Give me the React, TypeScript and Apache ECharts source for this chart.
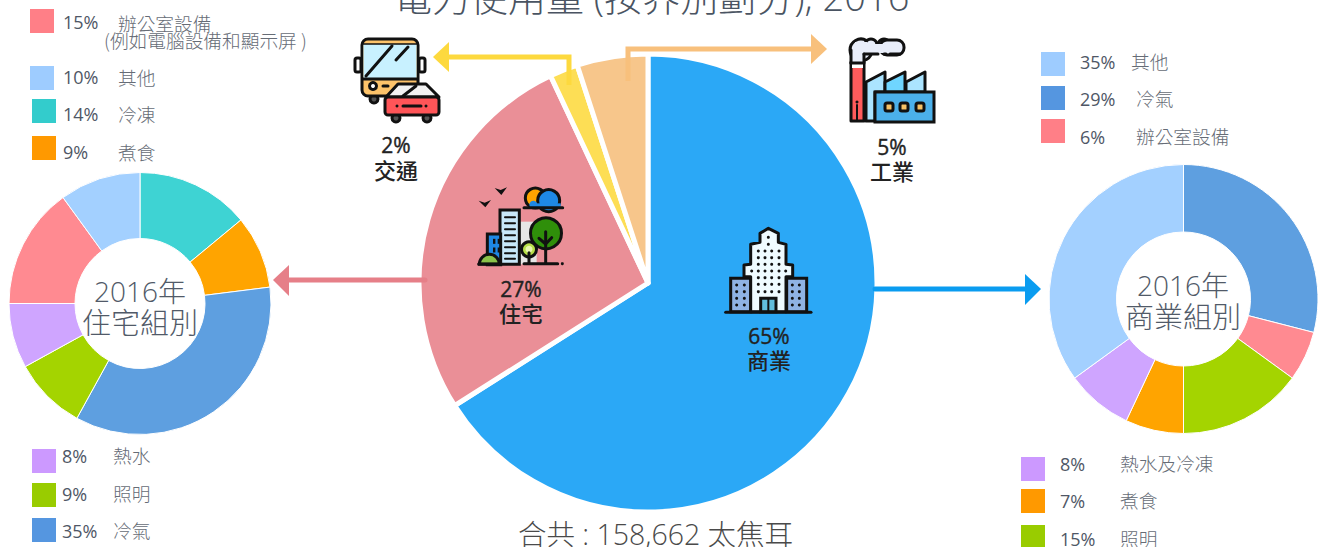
import React, { useEffect, useRef } from "react";
import * as echarts from "echarts";

const mainCategories = ["商業", "住宅", "交通", "工業"];
const mainLabels = ["65%", "27%", "2%", "5%"];
const mainValues = [66, 27, 2, 5];
const mainColors = ["#2BA8F6", "#EA8F97", "#FDDE55", "#F7C68B"];

const homeCategories = ["冷凍", "煮食", "冷氣", "照明", "熱水", "辦公室設備", "其他"];
const homeValues = [14, 9, 35, 9, 8, 15, 10];
const homeColors = ["#3ED3D3", "#FFA400", "#5E9FE0", "#A4D400", "#CFA5FF", "#FF8A91", "#A3D0FF"];

const workCategories = ["冷氣", "辦公室設備", "照明", "煮食", "熱水及冷凍", "其他"];
const workValues = [29, 6, 15, 7, 8, 35];
const workColors = ["#5E9FE0", "#FF8A91", "#A4D400", "#FFA400", "#CFA5FF", "#A3D0FF"];

const titleText = "電力使用量 (按界別劃分), 2016";
const totalText = "合共 : 158,662 太焦耳";

const SANS = '"Open Sans", "Noto Sans CJK TC", sans-serif';
const CJK = '"Noto Sans CJK TC", sans-serif';
const K = "#111";

type LegendRow = [number, number, string, number, number, string, number, number, string];
// swatch x, y, colour, percent x, y, text, label x, y, text
const legendRows: LegendRow[] = [
  [30, 9, "#FF7F87", 63, 22, "15%", 118, 22, "辦公室設備"],
  [30, 66, "#9ECCFF", 63, 77, "10%", 118, 76, "其他"],
  [32, 99, "#33CCCC", 63, 114, "14%", 118, 113, "冷凍"],
  [32, 136, "#FF9900", 63, 152, "9%", 118, 151, "煮食"],
  [32, 449, "#CC99FF", 62, 456, "8%", 113, 454, "熱水"],
  [32, 483, "#99CC00", 62, 494, "9%", 113, 492, "照明"],
  [32, 518, "#5596E0", 62, 531, "35%", 113, 529, "冷氣"],
  [1041, 52, "#9ECCFF", 1080, 62, "35%", 1131, 60, "其他"],
  [1041, 86, "#5596E0", 1080, 99, "29%", 1136, 97, "冷氣"],
  [1041, 119, "#FF7F87", 1080, 137, "6%", 1136, 135, "辦公室設備"],
  [1021, 457, "#CC99FF", 1060, 464, "8%", 1120, 462, "熱水及冷凍"],
  [1021, 489, "#FF9900", 1060, 501, "7%", 1120, 499, "煮食"],
  [1021, 525, "#99CC00", 1060, 539, "15%", 1120, 537, "照明"],
];

const rect = (x: number, y: number, w: number, h: number, fill: string, r = 0, lw = 3, stroke = K) => ({
  type: "rect",
  shape: { x, y, width: w, height: h, r },
  style: { fill, stroke: lw ? stroke : "none", lineWidth: lw },
});
const poly = (points: number[][], fill: string, lw = 3) => ({
  type: "polygon",
  shape: { points },
  style: { fill, stroke: lw ? K : "none", lineWidth: lw, lineJoin: "round" },
});
const pline = (points: number[][], lw = 3, stroke = K) => ({
  type: "polyline",
  shape: { points },
  style: { fill: "none", stroke, lineWidth: lw, lineCap: "round", lineJoin: "round" },
});
const circ = (cx: number, cy: number, r: number, fill: string, lw = 3) => ({
  type: "circle",
  shape: { cx, cy, r },
  style: { fill, stroke: lw ? K : "none", lineWidth: lw },
});
const text = (x: number, y: number, t: string, size: number, fill: string, align = "left", weight: any = 400, font = SANS) => ({
  type: "text",
  x,
  y,
  style: { text: t, fontSize: size, fill, align, verticalAlign: "middle", fontWeight: weight, fontFamily: font },
});

function withZ(els: any[], z: number): any[] {
  return els.map((e) => ({ ...e, z }));
}

function busIcon() {
  return [
    circ(374, 99, 4, "#555"),
    rect(355, 58, 6, 14, "#fff", 2),
    rect(419, 58, 6, 14, "#fff", 2),
    rect(362, 39, 56, 57, "#FDC36A", 6),
    rect(363.5, 44, 53, 35, "#C8F1FF", 0, 0),
    pline([[363, 44], [417, 44]], 1.5),
    pline([[363, 79], [417, 79]]),
    pline([[366, 76], [392, 46]]),
    pline([[396, 60], [408, 47]]),
    circ(373, 86, 3.5, "#fff"),
    pline([[383, 86], [388, 86]]),
    circ(396, 118, 4, "#555"),
    circ(427, 118, 4, "#555"),
    poly([[386, 97], [398, 84], [426, 84], [439, 97]], "#F2F2F2"),
    pline([[403, 96], [416, 86]], 3),
    rect(385, 97, 54, 18, "#FF5558", 3),
    pline([[403, 106], [421, 106]], 3),
    circ(397, 106, 1.5, K, 0),
    circ(426, 106, 1.5, K, 0),
  ];
}

function factoryIcon() {
  return [
    poly([[866, 82], [885, 72], [885, 92], [875, 92], [875, 121], [866, 121]], "#ABE4FF"),
    poly([[885, 82], [905, 72], [905, 92], [885, 92]], "#6FD5FF"),
    poly([[906, 82], [925, 72], [925, 92], [906, 92]], "#ABE4FF"),
    poly([[851, 62], [864, 62], [864, 121], [851, 121]], "#FF5B5B"),
    rect(852, 62, 11, 6, "#fff", 0, 0),
    circ(861, 50, 11, "#E9EEFA"),
    circ(871, 45, 6, "#E9EEFA"),
    circ(884, 45, 6, "#E9EEFA"),
    rect(880, 40, 24, 15, "#E9EEFA", 7),
    rect(852, 50, 12, 12, "#E9EEFA", 0, 0),
    rect(862, 44, 28, 9, "#E9EEFA", 0, 0),
    rect(855, 42, 12, 12, "#E9EEFA", 0, 0),
    pline([[851, 50], [851, 63]]),
    pline([[864, 54], [864, 63], [851, 63]]),
    pline([[864, 54], [878, 54]]),
    pline([[884, 54], [886, 54]]),
    pline([[890, 54], [900, 54]]),
    rect(875, 92, 59, 30, "#4BB0EA"),
    pline([[857, 105], [857, 121]], 2),
    circ(857, 102, 1.5, K, 0),
    rect(885, 103, 8, 8, "#F7C266", 2),
    rect(900, 103, 8, 8, "#F7C266", 2),
    rect(916, 103, 8, 8, "#F7C266", 2),
  ];
}

function officeIcon() {
  const ox = 710;
  const oy = 215;
  const p = (x: number, y: number) => [ox + x / 3, oy + y / 3];
  const dots: any[] = [];
  for (const y of [108, 128, 148, 168, 188, 208, 230]) {
    for (const x of [145, 165, 185, 207]) dots.push(circ(ox + x / 3, oy + y / 3, 1.5, K, 0));
  }
  dots.push(circ(ox + 175 / 3, oy + 67 / 3, 1.5, K, 0), circ(ox + 175 / 3, oy + 88 / 3, 1.5, K, 0));
  dots.push(circ(ox + 125 / 3, oy + 168 / 3, 1.5, K, 0), circ(ox + 227 / 3, oy + 168 / 3, 1.5, K, 0));
  const side: any[] = [];
  for (const y of [210, 230, 250, 270]) {
    for (const x of [80, 103, 247, 268]) side.push(circ(ox + x / 3, oy + y / 3, 1.5, K, 0));
  }
  return [
    rect(ox + 62 / 3, oy + 190 / 3, 60 / 3, 100 / 3, "#8FB3E4"),
    rect(ox + 230 / 3, oy + 190 / 3, 60 / 3, 100 / 3, "#8FB3E4"),
    poly(
      [[175, 40], [205, 55], [205, 82], [228, 88], [228, 148], [248, 150], [248, 185], [228, 185], [228, 290], [122, 290], [122, 185], [102, 185], [102, 150], [122, 148], [122, 88], [150, 82], [150, 55]].map(([x, y]) => p(x, y)),
      "#EFFBFF",
    ),
    ...dots,
    ...side,
    rect(ox + 152 / 3, oy + 250 / 3, 46 / 3, 40 / 3, "#62BEDD"),
    pline([p(175, 252), p(175, 288)], 2),
    pline([p(47, 292), p(303, 292)], 3),
  ];
}

function cityIcon() {
  const ox = 460;
  const oy = 170;
  const p = (x: number, y: number) => [ox + x / 3, oy + y / 3];
  const px = (x: number) => ox + x / 3;
  const py = (y: number) => oy + y / 3;
  const lines: any[] = [];
  for (const y of [142, 160, 178, 196, 214, 232, 250, 266]) lines.push(pline([p(135, y), p(165, y)], 2));
  const win: any[] = [];
  for (const y of [214, 240]) {
    for (const x of [102, 116]) win.push(rect(px(x) - 1, py(y) - 2.5, 2.4, 5, K, 0, 0));
  }
  return [
    poly([p(56, 92), p(74, 98), p(93, 90), p(76, 112)], K, 0),
    poly([p(104, 54), p(122, 60), p(141, 52), p(124, 75)], K, 0),
    circ(px(226), py(84), 10, "#FFA400"),
    circ(px(266), py(92), 11, "#1E88E5"),
    circ(px(220), py(104), 4, "#1E88E5", 0),
    rect(px(212), py(100), 30, 4, "#1E88E5", 0, 0),
    pline([p(192, 113), p(308, 113)], 3),
    rect(px(178), py(155), 52 / 3, 128 / 3, "#E6E6E6", 0, 0),
    rect(px(120), py(120), 58 / 3, 163 / 3, "#C8E8FA"),
    ...lines,
    rect(px(82), py(192), 40 / 3, 92 / 3, "#1E88E5"),
    ...win,
    {
      type: "sector",
      shape: { cx: px(88), cy: py(283), r: 10, startAngle: Math.PI, endAngle: 2 * Math.PI },
      style: { fill: "#8BC34A", stroke: K, lineWidth: 3 },
    },
    circ(px(258), py(190), 15.5, "#2F8F0A"),
    pline([p(257, 185), p(257, 280)], 3),
    pline([p(237, 205), p(257, 222), p(275, 203)], 3),
    circ(px(207), py(238), 7.5, "#B8E04A"),
    circ(px(207), py(238), 3.5, "#EAF7B0", 0),
    pline([p(207, 248), p(207, 280)], 3),
    pline([p(56, 282), p(118, 282)], 3),
    pline([p(192, 281), p(293, 281)], 3),
    circ(px(307), py(281), 1.5, K, 0),
  ];
}

function arrows() {
  return [
    pline([[425, 280], [285, 280]], 5, "#E67F88"),
    { type: "polygon", shape: { points: [[273, 280], [289, 265], [289, 296]] }, style: { fill: "#E67F88" } },
    pline([[875, 289], [1028, 289]], 5, "#0A9CF0"),
    { type: "polygon", shape: { points: [[1041, 289], [1025, 274], [1025, 305]] }, style: { fill: "#0A9CF0" } },
    { type: "polyline", shape: { points: [[569, 85], [569, 57], [445, 57]] }, style: { fill: "none", stroke: "#FDD93E", lineWidth: 5 } },
    { type: "polygon", shape: { points: [[433, 57], [449, 42], [449, 72]] }, style: { fill: "#FDD93E" } },
    { type: "polyline", shape: { points: [[628, 81], [628, 49], [815, 49]] }, style: { fill: "none", stroke: "#F8C07C", lineWidth: 5 } },
    { type: "polygon", shape: { points: [[827, 49], [811, 34], [811, 64]] }, style: { fill: "#F8C07C" } },
  ];
}

function pie(center: number[], radius: number[], cats: string[], vals: number[], colors: string[], border: number) {
  return {
    type: "pie",
    silent: true,
    clockwise: true,
    startAngle: 90,
    center,
    radius,
    label: { show: false },
    labelLine: { show: false },
    itemStyle: { borderColor: "#fff", borderWidth: border },
    data: cats.map((name, i) => ({ name, value: vals[i], itemStyle: { color: colors[i] } })),
  };
}

export default function App() {
  const ref = useRef<HTMLDivElement>(null);
  useEffect(() => {
    document.body.style.margin = "0";
    document.body.style.overflow = "hidden";
    const chart = echarts.init(ref.current!, undefined, { renderer: "svg" });
    const legendEls: any[] = [];
    legendRows.forEach(([sx, sy, c, px, py, pt, lx, ly, lt]) => {
      legendEls.push({ type: "rect", shape: { x: sx, y: sy, width: 24, height: 24 }, style: { fill: c } });
      legendEls.push(text(px, py, pt, 18, "#4F5766"));
      legendEls.push(text(lx, ly, lt, 18.7, "#666C76", "left", 300, CJK));
    });
    legendEls.push(text(104, 39, "(例如電腦設備和顯示屏 )", 18.7, "#666C76", "left", 300, CJK));

    const labelEls: any[] = [
      [396, 145, 169, 2],
      [892, 147, 170, 3],
      [521, 289, 312, 1],
      [769, 336, 359, 0],
    ].flatMap(([x, y1, y2, i]) => {
      const pct: any = text(x, y1, mainLabels[i], 21, "#222", "center", 500);
      pct.style.stroke = "#222";
      pct.style.lineWidth = 0.4;
      return [pct, text(x, y2, mainCategories[i], 22, "#222", "center", 500, CJK)];
    });

    chart.setOption({
      animation: false,
      title: {
        text: titleText,
        left: 389,
        top: -28,
        textStyle: { fontSize: 38, fontWeight: 300, color: "#4A5462", fontFamily: SANS },
      },
      series: [
        pie([648, 283], [0, 229], mainCategories, mainValues, mainColors, 5),
        pie([140, 303.5], [65, 131], homeCategories, homeValues, homeColors, 1),
        pie([1183.5, 299], [67, 134.5], workCategories, workValues, workColors, 1),
      ],
      graphic: [
        ...withZ(arrows(), 10),
        ...withZ(busIcon(), 10),
        ...withZ(factoryIcon(), 10),
        ...withZ(officeIcon(), 10),
        ...withZ(cityIcon(), 10),
        ...withZ(legendEls, 11),
        ...withZ(
          [
            ...labelEls,
            text(140, 291, "2016年", 28, "#515A68", "center", 300),
            text(140, 321, "住宅組別", 29, "#515A68", "center", 300, CJK),
            text(1183, 285, "2016年", 28, "#515A68", "center", 300),
            text(1183, 315, "商業組別", 29, "#515A68", "center", 300, CJK),
            text(655.5, 534, totalText, 28.5, "#4A4A4A", "center", 300),
          ],
          12,
        ),
      ],
    });
    return () => chart.dispose();
  }, []);
  return <div ref={ref} style={{ position: "fixed", left: 0, top: 0, width: 1319, height: 547, background: "#fff" }} />;
}
